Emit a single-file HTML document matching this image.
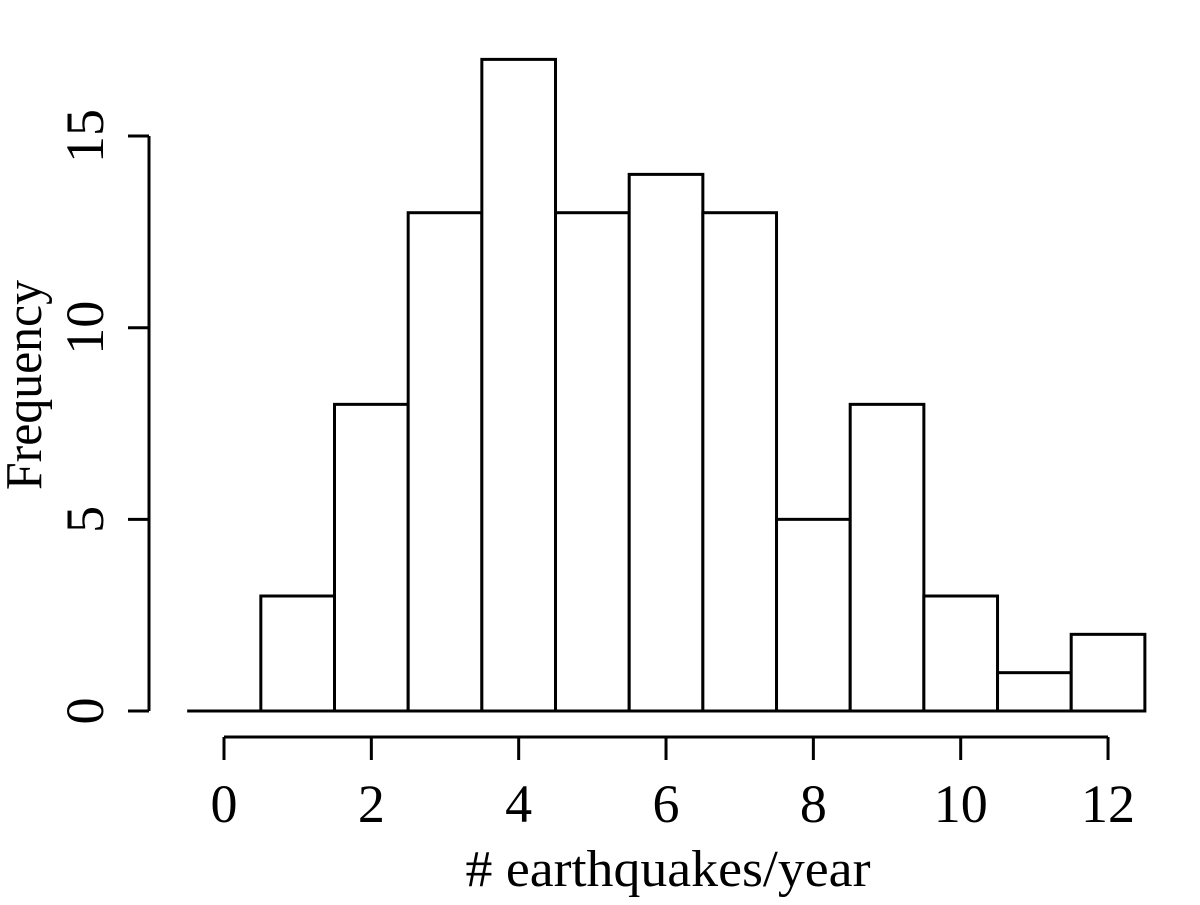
<!DOCTYPE html>
<html><head><meta charset="utf-8"><style>
html,body{margin:0;padding:0;background:#fff;}
svg text{font-family:"Liberation Serif",serif;fill:#000;}
</style></head><body>
<svg id="chart" width="1200" height="900" viewBox="0 0 1200 900" xmlns="http://www.w3.org/2000/svg">
<g id="bars"></g>
<g id="xaxis"></g>
<g id="yaxis"></g>
<text x="668" y="886" font-size="52" text-anchor="middle" textLength="405" lengthAdjust="spacingAndGlyphs"># earthquakes/year</text>
<text x="0" y="0" font-size="52" text-anchor="middle" textLength="210" lengthAdjust="spacingAndGlyphs" transform="translate(41,385) rotate(-90)">Frequency</text>
</svg>
<script>
const binCenters = [0,1,2,3,4,5,6,7,8,9,10,11,12];
const counts = [0,3,8,13,17,13,14,13,5,8,3,1,2];
const xTicks = [0,2,4,6,8,10,12];
const yTicks = [0,5,10,15];
const NS = "http://www.w3.org/2000/svg";
const xs = v => 224 + v * 73.67;
const ys = v => 711 - v * 38.33;
function mk(tag, attrs, parent){const e=document.createElementNS(NS,tag);for(const k in attrs)e.setAttribute(k,attrs[k]);parent.appendChild(e);return e;}
const bars = document.getElementById('bars');
const base = mk('line',{x1:xs(binCenters[0]-0.5),x2:xs(binCenters[binCenters.length-1]+0.5),y1:ys(0),y2:ys(0),stroke:'#000','stroke-width':3},bars);


binCenters.forEach((c,i)=>{
  const x0=xs(c-0.5), x1=xs(c+0.5), y=ys(counts[i]);
  const r = mk('rect',{x:x0,y:y,width:x1-x0,height:ys(0)-y,fill:'#fff',stroke:'#000','stroke-width':3},bars);
  
  
});
const xa = document.getElementById('xaxis');
mk('line',{x1:xs(xTicks[0]),x2:xs(xTicks[xTicks.length-1]),y1:737,y2:737,stroke:'#000','stroke-width':3},xa);
xTicks.forEach(t=>{
  mk('line',{x1:xs(t),x2:xs(t),y1:737,y2:760,stroke:'#000','stroke-width':3},xa);
  const tx = mk('text',{x:xs(t),y:822,'font-size':54,'text-anchor':'middle'},xa);
  tx.textContent=t;
  
  
});
const ya = document.getElementById('yaxis');
mk('line',{x1:149,x2:149,y1:ys(yTicks[0]),y2:ys(yTicks[yTicks.length-1]),stroke:'#000','stroke-width':3},ya);
yTicks.forEach(t=>{
  mk('line',{x1:128,x2:149,y1:ys(t),y2:ys(t),stroke:'#000','stroke-width':3},ya);
  const tx = mk('text',{x:0,y:0,'font-size':54,'text-anchor':'middle',transform:`translate(103,${ys(t)}) rotate(-90)`},ya);
  tx.textContent=t;
  
  
});
</script>
</body></html>
